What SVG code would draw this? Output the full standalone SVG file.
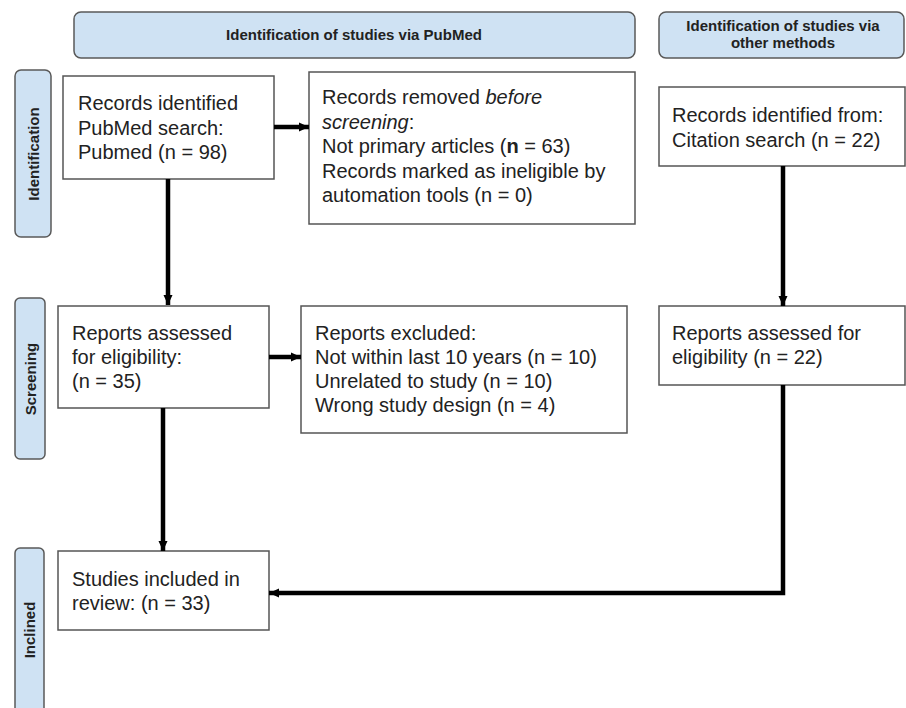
<svg xmlns="http://www.w3.org/2000/svg" width="906" height="708" viewBox="0 0 906 708">
<style>
.hdr{fill:#cfe2f3;stroke:#595959;stroke-width:1.5}
.box{fill:#fff;stroke:#555;stroke-width:1.5}
.t{font-family:"Liberation Sans",Arial,sans-serif;font-size:20px;fill:#222}
.h{font-family:"Liberation Sans",Arial,sans-serif;font-size:15px;font-weight:bold;fill:#222;text-anchor:middle}
.c{fill:none;stroke:#000;stroke-width:4.5}
</style>
<defs>
<marker id="ah" markerUnits="userSpaceOnUse" markerWidth="10" markerHeight="10" viewBox="0 0 10 10" refX="10" refY="5" orient="auto">
<path d="M0,0.5 L10,5 L0,9.5 Z" fill="#000"/>
</marker>
</defs>
<rect width="906" height="708" fill="#fff"/>
<g id="header-pubmed">
<rect class="hdr" x="74" y="12" width="561" height="46" rx="7"/>
<text class="h" x="354" y="40">Identification of studies via PubMed</text>
</g>
<g id="header-other">
<rect class="hdr" x="659" y="12" width="245" height="46" rx="7"/>
<text class="h" x="783" y="31">Identification of studies via</text>
<text class="h" x="783" y="48">other methods</text>
</g>
<g id="side-identification">
<rect class="hdr" x="15" y="70" width="36" height="167" rx="6"/>
<text class="h" transform="translate(38.5,154) rotate(-90)">Identification</text>
</g>
<g id="side-screening">
<rect class="hdr" x="15" y="298" width="30" height="161" rx="5"/>
<text class="h" transform="translate(35.5,379) rotate(-90)">Screening</text>
</g>
<g id="side-inclined">
<rect class="hdr" x="15" y="548" width="29" height="180" rx="5"/>
<text class="h" transform="translate(35,630) rotate(-90)">Inclined</text>
</g>
<g id="records-pubmed">
<rect class="box" x="63" y="76" width="211" height="103"/>
<text class="t" x="78" y="110">Records identified</text>
<text class="t" x="78" y="134.5">PubMed search:</text>
<text class="t" x="78" y="159">Pubmed (n = 98)</text>
</g>
<g id="records-removed">
<rect class="box" x="309" y="72" width="326" height="152"/>
<text class="t" x="322" y="104">Records removed <tspan font-style="italic">before</tspan></text>
<text class="t" x="322" y="128.5"><tspan font-style="italic">screening</tspan>:</text>
<text class="t" x="322" y="153">Not primary articles (<tspan font-weight="bold">n</tspan> = 63)</text>
<text class="t" x="322" y="177.5">Records marked as ineligible by</text>
<text class="t" x="322" y="202">automation tools (n = 0)</text>
</g>
<g id="records-other">
<rect class="box" x="659" y="87" width="246" height="79"/>
<text class="t" x="672" y="122">Records identified from:</text>
<text class="t" x="672" y="146.5">Citation search (n = 22)</text>
</g>
<g id="reports-assessed">
<rect class="box" x="58" y="306" width="211" height="102"/>
<text class="t" x="72" y="340">Reports assessed</text>
<text class="t" x="72" y="364">for eligibility:</text>
<text class="t" x="72" y="388">(n = 35)</text>
</g>
<g id="reports-excluded">
<rect class="box" x="301" y="306" width="326" height="127"/>
<text class="t" x="315" y="340">Reports excluded:</text>
<text class="t" x="315" y="364">Not within last 10 years (n = 10)</text>
<text class="t" x="315" y="388">Unrelated to study (n = 10)</text>
<text class="t" x="315" y="412">Wrong study design (n = 4)</text>
</g>
<g id="reports-other">
<rect class="box" x="659" y="306" width="246" height="79"/>
<text class="t" x="672" y="340">Reports assessed for</text>
<text class="t" x="672" y="364">eligibility (n = 22)</text>
</g>
<g id="included">
<rect class="box" x="58" y="551" width="211" height="79"/>
<text class="t" x="72" y="586">Studies included in</text>
<text class="t" x="72" y="610">review: (n = 33)</text>
</g>
<g id="connectors">
<path class="c" d="M168,179 V305" marker-end="url(#ah)"/>
<path class="c" d="M274,127 H309" marker-end="url(#ah)"/>
<path class="c" d="M783,166 V306" marker-end="url(#ah)"/>
<path class="c" d="M269,357 H301" marker-end="url(#ah)"/>
<path class="c" d="M163,408 V551" marker-end="url(#ah)"/>
<path class="c" d="M783,385 V593 H269" marker-end="url(#ah)"/>
</g>
</svg>
